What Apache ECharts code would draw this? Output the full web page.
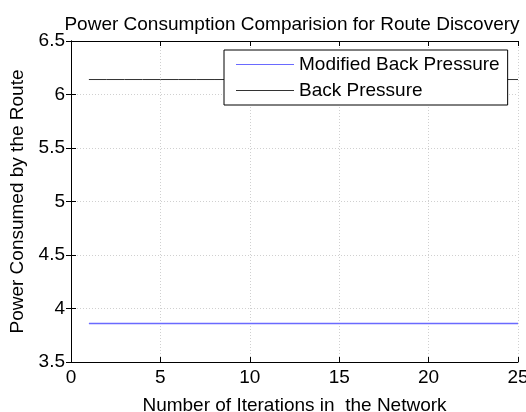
<!DOCTYPE html>
<html>
<head>
<meta charset="utf-8">
<script src="https://cdn.jsdelivr.net/npm/echarts@6/dist/echarts.min.js"></script>
<style>
  html, body { margin: 0; padding: 0; background: #fff; }
  #chart { width: 526px; height: 412px; }
</style>
</head>
<body>
<div id="chart"></div>
<script>
// iterations 1..25
var iterations = [1, 2, 3, 4, 5, 6, 7, 8, 9, 10, 11, 12, 13, 14, 15, 16, 17, 18, 19, 20, 21, 22, 23, 24, 25]
// power values (both flat)
var modifiedBackPressure = [3.86, 3.86, 3.86, 3.86, 3.86, 3.86, 3.86, 3.86, 3.86, 3.86, 3.86, 3.86, 3.86,
  3.86, 3.86, 3.86, 3.86, 3.86, 3.86, 3.86, 3.86, 3.86, 3.86, 3.86, 3.86]
var backPressure = [6.14, 6.14, 6.14, 6.14, 6.14, 6.14, 6.14, 6.14, 6.14, 6.14, 6.14, 6.14, 6.14,
  6.14, 6.14, 6.14, 6.14, 6.14, 6.14, 6.14, 6.14, 6.14, 6.14, 6.14, 6.14]

function pairs (xs, ys) {
  return xs.map(function (x, i) { return [x, ys[i]] })
}

var font = 'Liberation Sans, Arial, sans-serif'
var chart = echarts.init(document.getElementById('chart'))

var hiddenAxis = {
  axisLine: { show: true, lineStyle: { color: '#000', width: 1 } },
  axisTick: { show: true, inside: true, length: 5, lineStyle: { color: '#000' } },
  axisLabel: { show: false },
  splitLine: { show: false }
}

var option = {
  animation: false,
  color: ['#6a6aff', '#333333'],
  title: {
    text: 'Power Consumption Comparision for Route Discovery',
    left: 287,
    textAlign: 'center',
    top: 10,
    textStyle: { fontFamily: font, fontSize: 19, fontWeight: 'normal', color: '#000' }
  },
  legend: {
    left: 224,
    top: 50,
    orient: 'vertical',
    backgroundColor: '#fff',
    borderColor: '#000',
    borderWidth: 1,
    borderRadius: 0,
    padding: [5, 8, 5, 12],
    itemGap: 7,
    icon: 'path://M0,0H100V2H0Z',
    itemWidth: 58,
    itemHeight: 1.2,
    textStyle: { fontFamily: font, fontSize: 19, color: '#000' },
    data: ['Modified Back Pressure', 'Back Pressure']
  },
  grid: { left: 71, right: 8, top: 41, bottom: 50, outerBoundsMode: 'none' },
  xAxis: [
    {
      type: 'value',
      min: 0,
      max: 25,
      interval: 5,
      name: 'Number of Iterations in  the Network',
      nameLocation: 'middle',
      nameGap: 34,
      nameTextStyle: { fontFamily: font, fontSize: 19, color: '#000' },
      axisLine: { show: true, onZero: false, lineStyle: { color: '#000', width: 1 } },
      axisTick: { show: true, inside: true, length: 5, lineStyle: { color: '#000' } },
      axisLabel: { fontFamily: font, fontSize: 19, color: '#000', margin: 6 },
      splitLine: { show: true, lineStyle: { color: '#d0d0d0', type: [1, 2], width: 1 } }
    },
    Object.assign({ type: 'value', position: 'top', min: 0, max: 25, interval: 5 }, hiddenAxis)
  ],
  yAxis: [
    {
      type: 'value',
      min: 3.5,
      max: 6.5,
      interval: 0.5,
      name: 'Power Consumed by the Route',
      nameLocation: 'middle',
      nameGap: 43,
      nameTextStyle: { fontFamily: font, fontSize: 19, color: '#000' },
      axisLine: { show: true, lineStyle: { color: '#000', width: 1 } },
      axisTick: { show: true, inside: true, length: 5, lineStyle: { color: '#000' } },
      axisLabel: { fontFamily: font, fontSize: 19, color: '#000', margin: 6 },
      splitLine: { show: true, lineStyle: { color: '#d0d0d0', type: [1, 2], width: 1 } }
    },
    Object.assign({ type: 'value', position: 'right', min: 3.5, max: 6.5, interval: 0.5 }, hiddenAxis)
  ],
  series: [
    {
      name: 'Modified Back Pressure',
      type: 'line',
      data: pairs(iterations, modifiedBackPressure),
      showSymbol: false,
      lineStyle: { width: 1.5 }
    },
    {
      name: 'Back Pressure',
      type: 'line',
      data: pairs(iterations, backPressure),
      showSymbol: false,
      lineStyle: { width: 1 }
    }
  ]
}
chart.setOption(option)
</script>
</body>
</html>
